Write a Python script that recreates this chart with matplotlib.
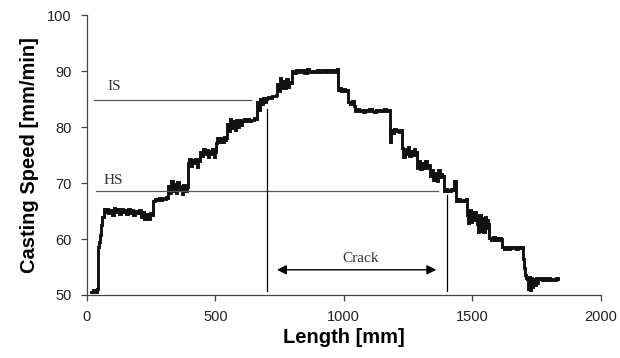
import numpy as np
import matplotlib.pyplot as plt

# casting speed trace (length in mm, speed in mm/min)
length_mm = [
    18, 25, 32, 38, 42, 45, 48, 52, 56, 60, 65, 70,
    75, 82, 90, 97, 104, 111, 118, 125, 132, 139, 146, 153, 160, 167, 174,
    181, 188, 195, 202, 209, 216, 223, 230, 237, 244, 251, 256,
    258, 265, 272, 279, 286, 293, 300, 307, 314,
    316, 322, 328, 334, 340, 346, 352, 358, 364, 370, 376, 382, 388,
    392, 398, 404, 410, 416, 422, 428, 434, 440, 446, 452, 458, 464, 470,
    476, 482, 488, 494, 500,
    502, 508, 514, 520, 526, 532, 538, 543,
    545, 551, 557, 563, 569, 575, 581, 587, 593, 599,
    603, 610, 617, 624, 631, 638, 645, 652, 659,
    661, 667, 673, 679, 685, 691, 698,
    700, 707, 714, 721, 728, 735,
    739, 745, 751, 757, 763, 769, 775, 781, 787, 794,
    797, 805, 815, 825, 835, 845, 855, 865, 875, 885, 895, 905, 915, 925,
    935, 945, 955, 965, 972,
    976, 983, 990, 997, 1004, 1011, 1015,
    1018, 1025, 1032, 1040,
    1044, 1052, 1060, 1068, 1076, 1084, 1092, 1100, 1108, 1116, 1124, 1132,
    1140, 1148, 1156, 1164, 1172, 1178,
    1181, 1184, 1190, 1196, 1202, 1208, 1214, 1222,
    1225, 1231, 1237, 1243, 1249, 1255, 1261, 1267, 1273, 1279, 1283,
    1286, 1292, 1298, 1304, 1310, 1316, 1322, 1328, 1334,
    1337, 1343, 1349, 1355, 1361, 1367, 1373, 1379, 1384,
    1388, 1394, 1400, 1406, 1412, 1418, 1424, 1430, 1435,
    1438, 1445, 1452, 1459, 1466, 1476,
    1479, 1484, 1489, 1494, 1499, 1504, 1509, 1515,
    1518, 1523, 1528, 1533, 1538, 1543, 1548, 1553, 1558, 1563,
    1566, 1573, 1580, 1587, 1594, 1601, 1608, 1612,
    1615, 1623, 1631, 1639, 1647, 1655, 1663, 1671, 1679, 1687, 1694,
    1698, 1702, 1706, 1710, 1714,
    1718, 1722, 1726, 1730, 1734, 1738, 1742, 1746, 1750, 1755,
    1762, 1770, 1778, 1786, 1794, 1802, 1810, 1818, 1826, 1833,
]
speed = [
    50.5, 50.9, 50.6, 51.0, 55.0, 58.5, 59.5, 60.8, 62.5, 64.0, 65.3, 64.8,
    65.4, 64.6, 65.2, 64.3, 65.5, 64.8, 65.3, 64.5, 65.4, 64.9, 65.2, 64.4, 65.3, 64.7, 65.1,
    64.2, 65.0, 64.6, 65.2, 64.0, 64.8, 63.6, 64.5, 63.5, 64.7, 64.2, 65.0,
    66.8, 67.2, 66.9, 67.3, 67.0, 67.4, 67.1, 67.5, 67.3,
    69.5, 68.3, 70.4, 68.6, 69.8, 68.2, 70.2, 68.9, 69.5, 68.1, 69.7, 68.5, 69.2,
    73.5, 74.2, 73.0, 74.1, 73.6, 74.3, 72.8, 73.9, 75.6, 74.8, 76.0, 75.2, 75.9, 74.6,
    75.8, 75.1, 76.0, 74.7, 75.6,
    77.2, 78.1, 77.4, 78.0, 77.3, 78.2, 77.6, 78.0,
    80.6, 79.2, 81.4, 79.8, 81.0, 79.4, 81.2, 80.0, 81.3, 80.4,
    81.0, 81.4, 81.1, 81.5, 81.0, 81.3, 81.2, 81.6, 81.4,
    84.5, 83.0, 85.0, 84.2, 85.1, 84.4, 85.0,
    85.1, 85.4, 85.2, 85.6, 85.5, 85.8,
    87.6, 86.4, 88.7, 86.9, 88.2, 87.0, 88.5, 87.2, 88.0, 87.8,
    90.0, 89.7, 90.2, 89.8, 90.1, 89.7, 90.3, 89.9, 90.0, 89.8, 90.2, 89.9, 90.1, 89.8,
    90.2, 89.9, 90.1, 89.8, 90.3,
    86.6, 86.9, 86.5, 86.8, 86.4, 86.7, 86.5,
    84.5, 84.1, 84.6, 83.8,
    82.9, 83.2, 82.8, 83.1, 82.7, 83.0, 82.8, 83.2, 82.9, 82.7, 83.1, 82.8,
    83.0, 82.9, 83.2, 82.8, 83.0, 82.9,
    77.4, 79.4, 79.0, 79.6, 79.2, 79.5, 79.1, 79.4,
    76.2, 74.6, 76.0, 75.2, 76.4, 74.8, 75.8, 75.0, 76.1, 75.4, 75.7,
    72.6, 73.9, 72.5, 73.6, 72.7, 74.0, 72.6, 73.2, 72.8,
    71.2, 72.4, 70.5, 71.8, 70.4, 72.3, 71.0, 71.6, 71.2,
    68.6, 68.9, 68.5, 68.8, 68.6, 68.9, 68.7, 70.4, 68.8,
    66.8, 67.1, 66.7, 67.0, 66.8, 67.1,
    64.2, 62.8, 65.1, 63.0, 64.8, 63.4, 64.9, 63.6,
    62.6, 61.2, 64.3, 61.5, 63.8, 61.3, 64.0, 62.0, 63.4, 62.6,
    60.1, 59.8, 60.3, 59.9, 60.2, 59.8, 60.1, 60.0,
    58.5, 58.3, 58.6, 58.2, 58.5, 58.4, 58.6, 58.3, 58.5, 58.4, 58.6,
    56.5, 54.8, 53.5, 53.0, 52.8,
    51.0, 53.3, 50.9, 53.0, 51.4, 52.9, 51.8, 53.1, 52.2, 52.8,
    53.0, 52.6, 53.1, 52.7, 53.0, 52.6, 52.9, 52.7, 53.0, 52.8,
]

# reference levels and crack zone
is_level, is_span = 84.8, (28, 640)
hs_level, hs_span = 68.5, (34, 1366)
crack_start, crack_end = 700, 1400

plt.rcParams['font.family'] = ['Liberation Sans', 'DejaVu Sans']

fig = plt.figure(figsize=(6.2, 3.58), dpi=100)
ax = fig.add_axes([0.140, 0.176, 0.829, 0.782])

ax.plot(length_mm, speed, color='#111111', lw=2.1, drawstyle='steps-post',
        solid_joinstyle='miter')

serif = ['Liberation Serif', 'DejaVu Serif']
ax.plot(is_span, [is_level, is_level], color='#555555', lw=0.9)
ax.plot(hs_span, [hs_level, hs_level], color='#555555', lw=0.9)
ax.text(82, 86.0, 'IS', family=serif, fontsize=11, color='#333333', va='bottom')
ax.text(66, 69.3, 'HS', family=serif, fontsize=11, color='#333333', va='bottom')

ax.plot([crack_start, crack_start], [50.8, 83.2], color='black', lw=0.9)
ax.plot([crack_end, crack_end], [50.8, 67.9], color='black', lw=0.9)
ax.annotate('', xy=(1360, 54.5), xytext=(740, 54.5),
            arrowprops=dict(arrowstyle='<|-|>', color='black', lw=1.0,
                            mutation_scale=14, shrinkA=0, shrinkB=0))
ax.text(1066, 55.4, 'Crack', family=serif, fontsize=11, color='#333333',
        ha='center', va='bottom')

ax.set_xlim(0, 2000)
ax.set_ylim(50, 100)
ax.set_xticks(np.arange(0, 2001, 500))
ax.set_yticks(np.arange(50, 101, 10))
for side in ['top', 'right']:
    ax.spines[side].set_visible(False)
for side in ['left', 'bottom']:
    ax.spines[side].set_color('#444444')
    ax.spines[side].set_linewidth(0.9)
ax.tick_params(direction='out', length=4, width=0.9, color='#444444',
               labelcolor='#222222', labelsize=10.5, pad=7)

ax.set_xlabel('Length [mm]', fontsize=14.5, fontweight='bold', labelpad=3)
ax.set_ylabel('Casting Speed [mm/min]', fontsize=14.5, fontweight='bold', labelpad=6)

plt.savefig('out.png', dpi=100)
